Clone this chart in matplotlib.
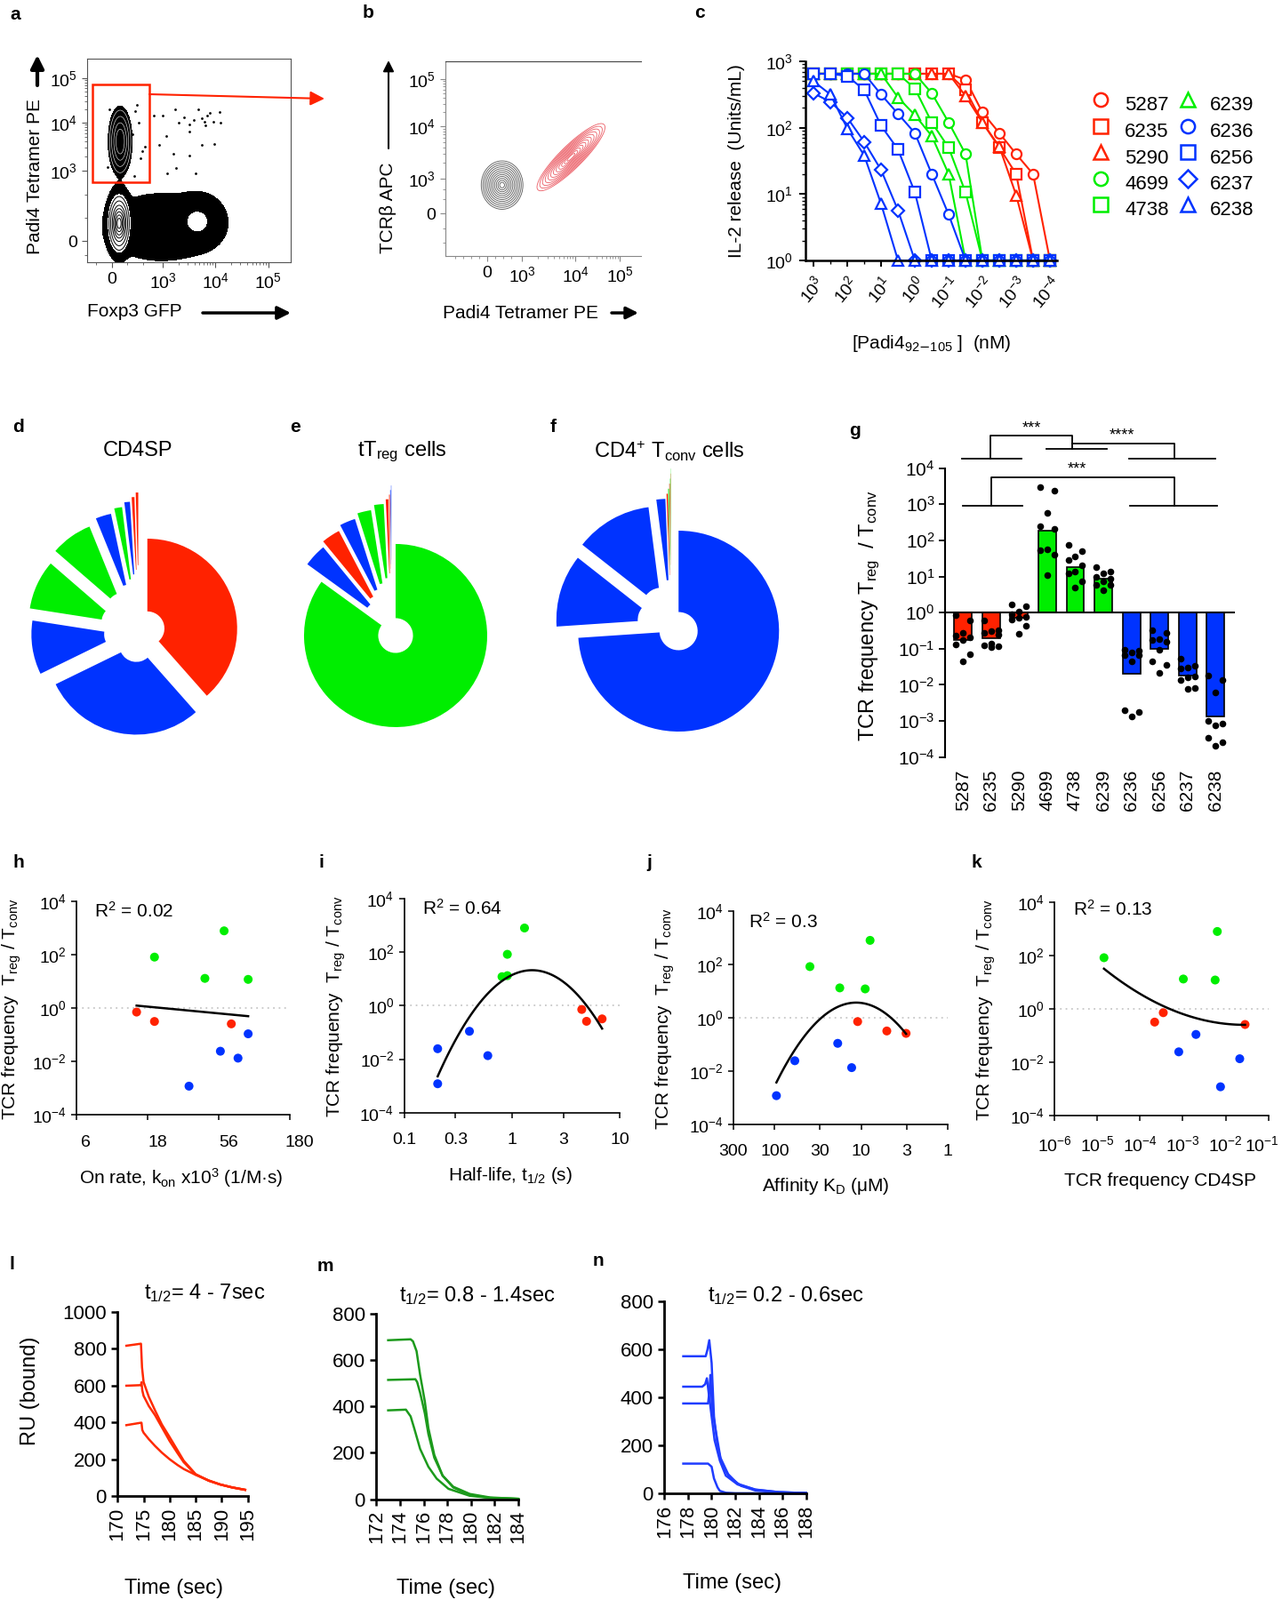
import numpy as np
import matplotlib
matplotlib.use("Agg")
import matplotlib.pyplot as plt
from matplotlib.patches import FancyArrowPatch, Rectangle
from matplotlib.lines import Line2D
from matplotlib.ticker import NullFormatter
from matplotlib.transforms import ScaledTranslation

plt.rcParams["font.family"] = ["Liberation Sans", "DejaVu Sans"]
plt.rcParams["mathtext.default"] = "regular"

RED = "#ff2200"
GREEN = "#00ee00"
BLUE = "#0033ff"

# ---------------- data ----------------
# a: flow cytometry populations (display units: one unit per decade)
a_blob_cx = [0.14, 1.63, 0.95, 0.16]
a_blob_cy = [0.38, 0.42, 0.30, 2.15]
a_blob_sx = [0.09, 0.195, 0.45, 0.12]
a_blob_sy = [0.27, 0.22, 0.30, 0.40]
a_blob_w = [1.0, 0.5, 0.15, 0.05]
a_dot_x = [0.80, 0.97, 1.20, 1.28, 1.37, 1.48, 1.65, 1.71, 1.76, 1.82, 1.87, 1.93, 2.05, 2.07,
           1.96, 1.71, 1.48, 1.17, 1.48, 1.23, 1.06, 1.59, 0.90, 1.03, 0.63, 0.55, 1.79, 1.56,
           0.45, 0.52, 0.40, 0.58, -0.05, -0.08, 0.42, 0.48]
a_dot_y = [2.71, 2.71, 2.85, 2.55, 2.68, 2.52, 2.85, 2.65, 2.57, 2.71, 2.76, 2.58, 2.79, 2.55,
           2.10, 2.07, 2.36, 1.88, 1.85, 1.57, 1.46, 1.46, 2.07, 2.26, 2.04, 1.78, 2.49, 2.62,
           2.80, 2.55, 2.30, 1.95, 2.85, 1.60, 1.40, 2.95]

# b: tetramer vs TCRb contours
b_pop_cx = [0.28, 1.57]
b_pop_cy = [0.58, 1.15]
b_pop_major = [0.19, 0.35]
b_pop_minor = [0.15, 0.085]
b_pop_angle = [90, 47.5]

# c: IL-2 release vs peptide dose
conc = [1000, 316, 100, 31.6, 10, 3.16, 1, 0.316, 0.1, 0.0316, 0.01, 0.00316, 0.001, 0.000316, 0.0001]
il2_5287 = [650, 650, 650, 650, 650, 650, 650, 650, 650, 530, 170, 83, 40, 20, 1]
il2_6235 = [650, 650, 650, 650, 650, 650, 650, 650, 650, 370, 120, 50, 20, 1, 1]
il2_5290 = [650, 650, 650, 650, 650, 650, 650, 650, 650, 300, 120, 52, 9.6, 1, 1]
il2_4699 = [650, 650, 650, 650, 650, 650, 650, 330, 120, 40, 1, 1, 1, 1, 1]
il2_4738 = [650, 650, 650, 650, 650, 650, 390, 120, 50, 10.6, 1, 1, 1, 1, 1]
il2_6239 = [650, 650, 650, 650, 650, 285, 155, 75, 20, 1, 1, 1, 1, 1, 1]
il2_6236 = [650, 650, 650, 650, 316, 162, 83, 20, 4.9, 1, 1, 1, 1, 1, 1]
il2_6256 = [650, 650, 600, 370, 107, 47, 10.6, 1, 1, 1, 1, 1, 1, 1, 1]
il2_6237 = [330, 245, 141, 61, 23, 5.7, 1, 1, 1, 1, 1, 1, 1, 1, 1]
il2_6238 = [500, 316, 97, 38, 7.1, 1, 1, 1, 1, 1, 1, 1, 1, 1, 1]

# d-f: clone shares
d_frac = [0.385, 0.293, 0.097, 0.089, 0.075, 0.028, 0.014, 0.010, 0.005, 0.0045]
d_cols = [RED, BLUE, BLUE, GREEN, GREEN, BLUE, GREEN, BLUE, RED, RED]
e_frac = [0.8494, 0.0406, 0.0328, 0.0278, 0.0242, 0.0169, 0.0047, 0.0014, 0.0011, 0.0006]
e_cols = [GREEN, BLUE, RED, BLUE, GREEN, GREEN, RED, RED, BLUE, BLUE]
f_frac = [0.7394, 0.1167, 0.1236, 0.0144, 0.0022, 0.0014, 0.0010, 0.0007, 0.0004, 0.0003]
f_cols = [BLUE, BLUE, BLUE, BLUE, RED, GREEN, RED, GREEN, RED, GREEN]

# g: Treg/Tconv ratio per clone
g_clones = ["5287", "6235", "5290", "4699", "4738", "6239", "6236", "6256", "6237", "6238"]
g_cols = [RED, RED, RED, GREEN, GREEN, GREEN, BLUE, BLUE, BLUE, BLUE]
g_bar = [0.179, 0.2, 0.71, 187, 18.7, 8.6, 0.0197, 0.098, 0.0179, 0.00132]
g_dots = [
    [0.86, 0.62, 0.28, 0.23, 0.21, 0.17, 0.13, 0.07, 0.044],
    [0.62, 0.32, 0.30, 0.27, 0.25, 0.14, 0.125, 0.118, 0.11],
    [1.73, 1.52, 1.1, 0.9, 0.78, 0.7, 0.65, 0.44, 0.26],
    [3000, 2400, 580, 250, 214, 55, 52, 41, 11],
    [77, 50, 36, 28, 20, 14, 12, 7.3, 5],
    [18.7, 13.8, 12, 9.5, 8.5, 7.5, 6, 5.9, 4.1],
    [0.094, 0.089, 0.081, 0.067, 0.065, 0.046, 0.002, 0.0018, 0.0013],
    [0.33, 0.28, 0.18, 0.17, 0.157, 0.093, 0.044, 0.036, 0.022],
    [0.053, 0.033, 0.030, 0.029, 0.017, 0.016, 0.0135, 0.008, 0.0076],
    [0.018, 0.014, 0.006, 0.001, 0.00087, 0.00076, 0.00034, 0.00026, 0.0002],
]

# h-k: per-clone binding parameters
hk_cols = [GREEN, GREEN, GREEN, GREEN, RED, RED, RED, BLUE, BLUE, BLUE, BLUE]
treg_ratio = [800, 83, 13.2, 12.1, 0.72, 0.32, 0.26, 0.11, 0.0245, 0.0135, 0.0012]
kon = [61.4, 19.9, 45, 90.6, 14.9, 19.9, 69, 90.6, 57.8, 76.9, 34.8]
t_half = [1.31, 0.908, 0.908, 0.81, 4.45, 6.87, 4.93, 0.404, 0.205, 0.598, 0.205]
kd = [7.9, 39.2, 17.7, 9.0, 11, 5.06, 3.03, 18.7, 58.6, 12.9, 95.6]
cd4sp_freq = [6.4e-3, 1.44e-5, 1.03e-3, 5.7e-3, 3.5e-4, 2.2e-4, 0.0285, 2.03e-3, 8.05e-4, 0.0214, 7.6e-3]

# l-n: SPR sensorgrams
l_t1 = [171.7, 174.5, 174.7, 175.0, 176.0, 177.2, 178.5, 180.0, 181.5, 182.7, 185.0, 187.5, 189.7, 192.0, 194.5]
l_ru1 = [817, 828, 700, 620, 540, 466, 390, 321, 250, 193, 120, 85, 64, 48, 35]
l_t2 = [171.7, 174.5, 174.6, 174.75, 175.0, 176.0, 177.2, 178.5, 180.0, 181.5, 182.7, 185.0, 187.5, 189.7, 192.0, 194.5]
l_ru2 = [600, 603, 619, 575, 545, 490, 440, 375, 300, 235, 185, 118, 84, 64, 48, 35]
l_t3 = [171.7, 174.5, 174.6, 174.75, 175.0, 176.0, 177.2, 178.5, 180.0, 181.5, 182.7, 185.0, 187.5, 189.7, 192.0, 194.5]
l_ru3 = [386, 399, 399, 360, 345, 310, 273, 237, 201, 170, 148, 116, 86, 64, 48, 35]

m_t1 = [173.0, 174.9, 175.1, 175.4, 175.7, 176.1, 176.4, 176.9, 177.6, 178.5, 179.9, 181.6, 184.0]
m_ru1 = [685, 689, 680, 638, 536, 421, 306, 191, 102, 51, 19, 6, 2]
m_t2 = [173.0, 175.3, 175.45, 175.7, 176.1, 176.4, 176.9, 177.6, 178.5, 179.9, 181.6, 184.0]
m_ru2 = [514, 517, 505, 459, 370, 281, 179, 102, 54, 23, 8, 2]
m_t3 = [173.0, 174.5, 174.9, 175.2, 175.7, 176.4, 177.1, 178.1, 179.9, 181.6, 184.0]
m_ru3 = [383, 386, 357, 306, 217, 140, 89, 45, 15, 6, 2]

n_t1 = [177.6, 179.5, 179.65, 179.8, 180.0, 180.2, 180.5, 180.85, 181.5, 182.5, 183.7, 185.7, 188.0]
n_ru1 = [572, 572, 600, 639, 544, 321, 198, 124, 68, 31, 12, 4, 1]
n_t2 = [177.6, 179.2, 179.45, 179.6, 179.75, 180.0, 180.25, 180.7, 181.2, 182.2, 183.7, 185.7, 188.0]
n_ru2 = [445, 445, 455, 480, 420, 321, 222, 136, 74, 37, 15, 5, 1]
n_t3 = [177.6, 179.7, 179.8, 179.9, 180.05, 180.4, 180.75, 181.4, 182.2, 183.7, 185.7, 188.0]
n_ru3 = [375, 375, 420, 494, 346, 247, 148, 80, 40, 16, 5, 1]
n_t4 = [177.6, 179.7, 180.0, 180.2, 180.5, 180.7, 181.2, 182.0, 188.0]
n_ru4 = [124, 124, 111, 62, 25, 10, 2.5, 0.5, 0]

# ---------------- layout helpers ----------------
W, H = 1442, 1800
fig = plt.figure(figsize=(W / 100, H / 100), dpi=100)


def box(x0, y0, x1, y1):
    return fig.add_axes([x0 / W, 1 - y1 / H, (x1 - x0) / W, (y1 - y0) / H])


def ftext(x, y, s, **kw):
    fig.text(x / W, 1 - y / H, s, **kw)


def farrow(x0, y0, x1, y1, lw=2.5, ms=18, color="k"):
    fig.add_artist(FancyArrowPatch((x0 / W, 1 - y0 / H), (x1 / W, 1 - y1 / H),
                                   transform=fig.transFigure, arrowstyle="-|>",
                                   mutation_scale=ms, lw=lw, color=color,
                                   shrinkA=0, shrinkB=0))


def clean(ax, lw=1.2):
    for s in ("top", "right"):
        ax.spines[s].set_visible(False)
    for s in ("left", "bottom"):
        ax.spines[s].set_linewidth(lw)


def flow_minor(pos):
    out = []
    for p0, p1 in zip(pos[1:-1], pos[2:]):
        out += [p0 + np.log10(m) * (p1 - p0) for m in range(2, 10)]
    return out


def shift_label(lab, dx):
    lab.set_transform(lab.get_transform() + ScaledTranslation(dx / 100, 0, fig.dpi_scale_trans))


letters = {"a": (11, 16), "b": (408, 14), "c": (781, 14), "d": (14, 480), "e": (326, 480),
           "f": (619, 480), "g": (955, 484), "h": (15, 970), "i": (358, 970), "j": (727, 970),
           "k": (1093, 970), "l": (11, 1423), "m": (357, 1425), "n": (667, 1419)}
for k, (x, y) in letters.items():
    ftext(x, y, k, fontsize=15, fontweight="bold", ha="left", va="center")

flow_labels = ["0", "$10^3$", "$10^4$", "$10^5$"]

# ---------------- a ----------------
ax = box(98, 66, 327, 295)
ax.set_xlim(-0.47, 3.41)
ax.set_ylim(-0.46, 3.94)
xg, yg = np.meshgrid(np.linspace(-0.47, 3.41, 500), np.linspace(-0.46, 3.94, 500))
comps = [w * np.exp(-0.5 * (((xg - cx) / sx) ** 2 + ((yg - cy) / sy) ** 2))
         for cx, cy, sx, sy, w in zip(a_blob_cx, a_blob_cy, a_blob_sx, a_blob_sy, a_blob_w)]
dens = sum(comps)
ax.contourf(xg, yg, dens, levels=[0.008, 1e9], colors="k")
ax.contourf(xg, yg, comps[0], levels=[0.07, 1e9], colors="white")
ax.contour(xg, yg, comps[0], levels=[0.1, 0.2, 0.35, 0.5, 0.65, 0.8, 0.92], colors="k", linewidths=0.7)
ax.contourf(xg, yg, comps[1], levels=[0.33, 1e9], colors="white")
ax.contour(xg, yg, comps[3], levels=[0.012, 0.02, 0.03, 0.04], colors="white", linewidths=0.4)
ax.scatter(a_dot_x, a_dot_y, s=4, c="k", lw=0)
ax.add_patch(Rectangle((-0.36, 1.27), 1.07, 2.11, fill=False, ec=RED, lw=1.8))
a_xt = [0, 0.97, 1.97, 2.98]
a_yt = [0, 1.52, 2.56, 3.52]
ax.set_xticks(a_xt)
ax.set_xticklabels(flow_labels)
ax.set_yticks(a_yt)
ax.set_yticklabels(flow_labels)
ax.set_xticks(flow_minor(a_xt) + [-0.3, 0.3, 0.6], minor=True)
ax.set_yticks(flow_minor(a_yt) + [-0.3, 0.5, 1.0], minor=True)
for s in ax.spines.values():
    s.set_color("#555555")
ax.tick_params(labelsize=14, length=4, color="#555555", pad=4)
ax.tick_params(which="minor", length=2.5, color="#555555")
farrow(168, 106, 365, 111, lw=1.5, ms=24, color=RED)
ftext(40, 199, "Padi4 Tetramer PE", fontsize=15, rotation=90, ha="center", va="center")
farrow(42, 96, 42, 62, lw=3, ms=22)
ftext(98, 350, "Foxp3 GFP", fontsize=15, ha="left", va="center")
farrow(228, 352, 327, 352, lw=2.5, ms=22)

# ---------------- b ----------------
ax = box(501, 69, 721, 288)
ax.set_xlim(-0.78, 2.88)
ax.set_ylim(-0.87, 3.11)
xg, yg = np.meshgrid(np.linspace(-0.78, 2.88, 400), np.linspace(-0.87, 3.11, 400))
levels = np.exp(-0.5 * np.linspace(2.6, 0.3, 12) ** 2)
for cx, cy, sa, sb, ang, col in zip(b_pop_cx, b_pop_cy, b_pop_major, b_pop_minor, b_pop_angle,
                                    ["#3a3a3a", "#e8404a"]):
    t = np.deg2rad(ang)
    u = (xg - cx) * np.cos(t) + (yg - cy) * np.sin(t)
    v = -(xg - cx) * np.sin(t) + (yg - cy) * np.cos(t)
    z = np.exp(-0.5 * ((u / sa) ** 2 + (v / sb) ** 2))
    ax.contour(xg, yg, z, levels=levels, colors=col, linewidths=0.6, alpha=0.85)
b_xt = [0, 0.65, 1.65, 2.48]
b_yt = [0, 0.71, 1.78, 2.75]
ax.set_xticks(b_xt)
ax.set_xticklabels(flow_labels)
ax.set_yticks(b_yt)
ax.set_yticklabels(flow_labels)
ax.set_xticks(flow_minor(b_xt) + [-0.6, -0.45, -0.3, -0.15, 0.15, 0.3, 0.45], minor=True)
ax.set_yticks(flow_minor(b_yt) + [-0.6, -0.3, 0.3, 0.5], minor=True)
ax.spines["right"].set_visible(False)
for s in ("left", "bottom"):
    ax.spines[s].set_color("#888888")
ax.spines["top"].set_color("#444444")
ax.tick_params(labelsize=14, length=4, color="#888888", pad=4)
ax.tick_params(which="minor", length=2.5, color="#888888")
ftext(437, 234, "TCRβ APC", fontsize=15, rotation=90, ha="center", va="center")
farrow(437, 167, 437, 68, lw=1.5, ms=18)
ftext(498, 352, "Padi4 Tetramer PE", fontsize=15, ha="left", va="center")
farrow(688, 352, 718, 352, lw=2.5, ms=20)

# ---------------- c ----------------
ax = box(906, 69, 1189, 293)
ax.set_xscale("log")
ax.set_yscale("log")
series = [("5287", il2_5287, RED, "o"), ("6235", il2_6235, RED, "s"), ("5290", il2_5290, RED, "^"),
          ("4699", il2_4699, GREEN, "o"), ("4738", il2_4738, GREEN, "s"), ("6239", il2_6239, GREEN, "^"),
          ("6236", il2_6236, BLUE, "o"), ("6256", il2_6256, BLUE, "s"), ("6237", il2_6237, BLUE, "D"),
          ("6238", il2_6238, BLUE, "^")]
for name, vals, col, mk in series:
    ax.plot(conc, vals, color=col, marker=mk, mfc="white", mec=col, mew=1.6,
            ms=8 if mk != "D" else 7, lw=1.5, clip_on=False)
ax.set_xlim(10 ** 3.24, 10 ** -4.21)
ax.set_ylim(1, 1000)
dec = [1e3, 1e2, 1e1, 1, 1e-1, 1e-2, 1e-3, 1e-4]
ax.set_xticks(dec)
ax.set_xticklabels(["$10^{%d}$" % p for p in range(3, -5, -1)], rotation=50, ha="right",
                   va="top", rotation_mode="anchor")
ax.set_xticks(conc[1::2], minor=True)
ax.xaxis.set_minor_formatter(NullFormatter())
ax.set_yticks([1, 10, 100, 1000])
ax.set_yticklabels(["$10^0$", "$10^1$", "$10^2$", "$10^3$"])
clean(ax, 1.8)
ax.tick_params(labelsize=14, length=5, width=1.4, pad=5)
ax.tick_params(which="minor", length=3, width=1.0)
ftext(829, 181, "IL-2 release  (Units/mL)", fontsize=15, rotation=90, ha="center", va="center")
ftext(1048, 387, "[Padi4$_{92\\mathrm{-}105}$ ]  (nM)", fontsize=15, ha="center", va="center")
for i, (name, vals, col, mk) in enumerate(series):
    colno, row = divmod(i, 5)
    mx = [1238, 1336][colno]
    tx = [1265, 1361][colno]
    fig.add_artist(Line2D([mx / W], [1 - (112 + 29.5 * row) / H], transform=fig.transFigure,
                          marker=mk, ms=11 if mk != "D" else 10, mfc="white", mec=col, mew=1.8, lw=0))
    ftext(tx, 119 + 29.5 * row, name, fontsize=16, ha="left", va="center")

# ---------------- d-f ----------------
pies = [(d_frac, d_cols, (0, 540, 310, 840), (156.3, 710.6), 101, "CD4SP", (155, 507)),
        (e_frac, e_cols, (300, 530, 590, 840), (440.3, 705.8), 103, "tT$_{reg}$ cells", (452, 508)),
        (f_frac, f_cols, (600, 510, 900, 840), (755, 702.3), 113, "CD4$^{+}$ T$_{conv}$ cells", (753, 508))]
for frac, cols, (x0, y0, x1, y1), (cx, cy), R, title, tpos in pies:
    ax = box(x0, y0, x1, y1)
    ax.pie(frac, colors=cols, explode=0.1 + 0.05 * np.arange(len(frac)), startangle=90,
           counterclock=False, radius=1, wedgeprops=dict(width=0.81, linewidth=0))
    ax.set_aspect("auto")
    ax.set_xlim((x0 - cx) / R, (x1 - cx) / R)
    ax.set_ylim((cy - y1) / R, (cy - y0) / R)
    ax.axis("off")
    ftext(tpos[0], tpos[1], title, fontsize=17, ha="center", va="center")

# ---------------- g ----------------
ax = box(1062.5, 526.7, 1389, 851.7)
ax.set_yscale("log")
idx = np.arange(len(g_clones))
ax.bar(idx, np.array(g_bar) - 1, bottom=1, width=0.63, color=g_cols, edgecolor="k", lw=1.2, zorder=2)
jit = [-0.25, 0.25, 0.0, -0.25, 0.25, 0.0, -0.25, 0.25, 0.0]
for i, vals in enumerate(g_dots):
    ax.scatter(i + np.array(jit[:len(vals)]), vals, s=30, c="k", lw=0, zorder=3, clip_on=False)
ax.axhline(1, color="k", lw=1.5, zorder=4)
ax.set_xlim(-0.656, 9.686)
ax.set_ylim(1e-4, 1e4)
ax.set_yticks([10.0 ** p for p in range(-4, 5)])
ax.set_yticklabels(["$10^{%d}$" % p for p in range(-4, 5)])
ax.set_xticks(idx)
ax.set_xticklabels(g_clones, rotation=90)
for s in ("top", "right", "bottom"):
    ax.spines[s].set_visible(False)
ax.spines["left"].set_linewidth(1.5)
ax.tick_params(axis="y", labelsize=15, length=5, width=1.3, pad=3)
ax.tick_params(axis="y", which="minor", length=3, width=0.8)
ax.tick_params(axis="x", labelsize=15, length=0, pad=10)
brackets = [
    [(-0.05, 4.263), (2.08, 4.263)], [(0.985, 4.263), (0.985, 4.895), (3.89, 4.895), (3.89, 4.526)],
    [(2.955, 4.526), (5.125, 4.526)], [(3.89, 4.69), (7.53, 4.69), (7.53, 4.263)],
    [(5.91, 4.263), (9.0, 4.263)],
    [(-0.02, 2.969), (2.1, 2.969)], [(1.02, 2.969), (1.02, 3.747), (7.53, 3.747), (7.53, 2.969)],
    [(5.95, 2.969), (9.05, 2.969)],
]
for seg in brackets:
    xs, ys = zip(*seg)
    ax.plot(xs, 10 ** np.array(ys), color="k", lw=1.3, clip_on=False)
for xs, ly, s in [(2.43, 4.895, "***"), (5.66, 4.69, "****"), (4.05, 3.747, "***")]:
    ax.text(xs, 10 ** ly, s, fontsize=13, ha="center", va="bottom")
ftext(978, 693, "TCR frequency T$_{reg}$  / T$_{conv}$", fontsize=17, rotation=90, ha="center", va="center")

# ---------------- h-k ----------------
ylab = "TCR frequency  T$_{reg}$ / T$_{conv}$"


def corr_panel(rect, xv, xlim, xt, xtl, deg, r2, r2pos, ylpos, xl, xlpos, shift=0, last_shift=0):
    ax = box(*rect)
    ax.set_xscale("log")
    ax.set_yscale("log")
    ax.set_xlim(*xlim)
    ax.set_ylim(1e-4, 1e4)
    ax.plot(xlim, [1, 1], color="#c8c8c8", ls=(0, (1, 2.5)), lw=1.3)
    ax.scatter(xv, treg_ratio, s=52, c=hk_cols, lw=0, zorder=3, clip_on=False)
    lx = np.log10(xv)
    coef = np.polyfit(lx, np.log10(treg_ratio), deg)
    xs = np.linspace(lx.min(), lx.max(), 100)
    ax.plot(10 ** xs, 10 ** np.polyval(coef, xs), color="k", lw=1.8, zorder=4)
    ax.minorticks_off()
    ax.set_xticks(xt)
    ax.set_xticklabels(xtl)
    ax.set_yticks([1e-4, 1e-2, 1, 1e2, 1e4])
    ax.set_yticklabels(["$10^{-4}$", "$10^{-2}$", "$10^{0}$", "$10^{2}$", "$10^{4}$"])
    clean(ax, 1.2)
    ax.tick_params(labelsize=14, length=4, width=1.1)
    ax.tick_params(axis="x", pad=12)
    ax.tick_params(axis="y", pad=4)
    labs = ax.get_xticklabels()
    if shift:
        for lab in labs:
            shift_label(lab, shift)
    if last_shift:
        shift_label(labs[-1], last_shift)
    ftext(r2pos[0], r2pos[1], r2, fontsize=15, ha="left", va="center")
    ftext(ylpos[0], ylpos[1], ylab, fontsize=15, rotation=90, ha="center", va="center")
    ftext(xlpos[0], xlpos[1], xl, fontsize=15, ha="center", va="center")


corr_panel((85.9, 1014.3, 326, 1254.3), kon, (10 ** 0.75, 10 ** 2.25),
           [10 ** 0.75, 10 ** 1.25, 10 ** 1.75, 10 ** 2.25], ["6", "18", "56", "180"], 1,
           "R$^2$ = 0.02", (106, 1025), (13, 1135), "On rate, k$_{on}$ x10$^3$ (1/M·s)", (204, 1325), shift=11)
corr_panel((454.5, 1011, 697, 1251.7), t_half, (0.1, 10), [0.1, 0.3, 1, 3, 10],
           ["0.1", "0.3", "1", "3", "10"], 2, "R$^2$ = 0.64", (475, 1022), (378, 1132),
           "Half-life, t$_{1/2}$ (s)", (574, 1323))
corr_panel((825, 1025, 1066, 1265), kd, (300, 1), [300, 100, 30, 10, 3, 1],
           ["300", "100", "30", "10", "3", "1"], 2, "R$^2$ = 0.3", (842, 1037), (748, 1146),
           "Affinity K$_D$ (μM)", (929, 1335))
corr_panel((1186, 1015, 1426.7, 1255), cd4sp_freq, (1e-6, 1e-1), [1e-6, 1e-5, 1e-4, 1e-3, 1e-2, 1e-1],
           ["$10^{-6}$", "$10^{-5}$", "$10^{-4}$", "$10^{-3}$", "$10^{-2}$", "$10^{-1}$"], 2,
           "R$^2$ = 0.13", (1207, 1023), (1109, 1136), "TCR frequency CD4SP", (1305, 1328), last_shift=-7)

# ---------------- l-n ----------------


def sensor_panel(rect, curves, col, xlim, xt, ylim, yt, title, tpos, xlpos):
    ax = box(*rect)
    for t, ru in curves:
        ax.plot(t, ru, color=col, lw=1.8, clip_on=False)
    ax.set_xlim(*xlim)
    ax.set_ylim(*ylim)
    ax.set_xticks(xt)
    ax.set_xticklabels([str(v) for v in xt], rotation=90)
    ax.set_yticks(yt)
    clean(ax, 2.0)
    ax.tick_params(labelsize=16, length=5, width=1.8, pad=4)
    ftext(tpos[0], tpos[1], title, fontsize=17, ha="center", va="center")
    ftext(xlpos[0], xlpos[1], "Time (sec)", fontsize=17, ha="center", va="center")
    return ax


sensor_panel((132.2, 1476, 278.7, 1683.3), [(l_t1, l_ru1), (l_t2, l_ru2), (l_t3, l_ru3)], "#ff2a00",
             (170, 195), list(range(170, 196, 5)), (0, 1000), list(range(0, 1001, 200)),
             "t$_{1/2}$= 4 - 7sec", (230, 1455), (195, 1787))
ftext(34, 1565, "RU (bound)", fontsize=17, rotation=90, ha="center", va="center")
sensor_panel((423.3, 1477.7, 583, 1686.7), [(m_t1, m_ru1), (m_t2, m_ru2), (m_t3, m_ru3)], "#1c9a1c",
             (172, 184), list(range(172, 185, 2)), (0, 800), list(range(0, 801, 200)),
             "t$_{1/2}$= 0.8 - 1.4sec", (537, 1458), (502, 1787))
sensor_panel((747.3, 1464.3, 906.7, 1680), [(n_t1, n_ru1), (n_t2, n_ru2), (n_t3, n_ru3), (n_t4, n_ru4)],
             "#1f3cff", (176, 188), list(range(176, 189, 2)), (0, 800), list(range(0, 801, 200)),
             "t$_{1/2}$= 0.2 - 0.6sec", (884, 1458), (823, 1781))

fig.savefig("out.png", dpi=100)
